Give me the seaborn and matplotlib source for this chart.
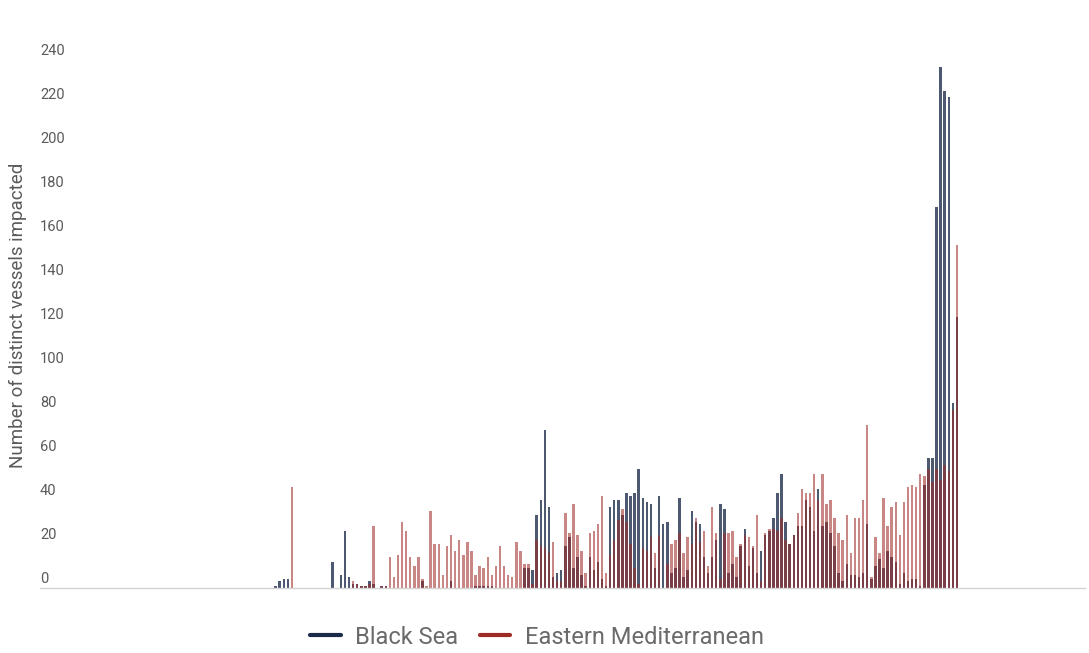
import matplotlib
matplotlib.use("Agg")
import matplotlib.pyplot as plt
import matplotlib.transforms as mtransforms
from matplotlib.lines import Line2D
import seaborn as sns
import pandas as pd

# ---- data ----
black_sea = [1, 3, 4, 4, 0, 0, 0, 0, 0, 0, 0, 0, 0, 0, 12, 0, 6, 26, 5, 2,
             2, 1, 1, 3, 2, 0, 1, 1, 0, 0, 0, 0, 0, 0, 0, 0, 3, 0, 0, 0,
             0, 0, 0, 3, 0, 0, 0, 0, 0, 1, 1, 1, 1, 1, 0, 0, 0, 0, 0, 0,
             0, 9, 9, 8, 33, 40, 72, 37, 5, 7, 8, 19, 23, 9, 14, 6, 1, 14, 8, 12,
             4, 1, 37, 40, 40, 33, 43, 42, 43, 54, 41, 39, 38, 9, 42, 29, 30, 7, 9, 41,
             5, 8, 35, 30, 29, 14, 7, 14, 22, 38, 36, 7, 11, 5, 19, 27, 10, 18, 7, 17,
             24, 26, 32, 43, 52, 30, 20, 24, 28, 28, 40, 37, 26, 45, 28, 30, 25, 19, 7, 3,
             11, 6, 6, 5, 7, 29, 4, 10, 13, 9, 17, 14, 12, 2, 7, 3, 4, 4, 1, 47,
             59, 59, 173, 237, 226, 223, 84, 123]
east_med = [0, 0, 0, 0, 46, 0, 0, 0, 0, 0, 0, 0, 0, 0, 0, 0, 0, 0, 0, 3,
            2, 1, 1, 2, 28, 0, 1, 1, 14, 5, 15, 30, 26, 14, 10, 14, 4, 1, 35, 20,
            20, 6, 19, 24, 17, 22, 15, 21, 17, 6, 10, 9, 14, 6, 10, 19, 10, 6, 5, 21,
            17, 11, 11, 2, 22, 19, 18, 16, 21, 3, 3, 34, 25, 38, 24, 17, 7, 25, 26, 29,
            42, 7, 15, 22, 31, 36, 30, 20, 9, 2, 18, 17, 23, 16, 24, 0, 11, 20, 22, 25,
            16, 23, 20, 32, 21, 26, 10, 37, 25, 4, 25, 25, 26, 14, 20, 24, 23, 19, 33, 3,
            25, 27, 27, 26, 32, 22, 20, 24, 34, 45, 43, 43, 52, 40, 52, 38, 40, 32, 25, 22,
            33, 16, 32, 32, 40, 74, 5, 23, 16, 41, 28, 37, 39, 24, 39, 46, 47, 46, 52, 51,
            54, 48, 54, 49, 56, 53, 81, 156]
days = list(range(len(black_sea)))
y_ticks = [0, 20, 40, 60, 80, 100, 120, 140, 160, 180, 200, 220, 240]
series_names = ["Black Sea", "Eastern Mediterranean"]

df = pd.DataFrame({"day": days, "Black Sea": black_sea,
                   "Eastern Mediterranean": east_med})

BS_COLOR = "#1b2a48"
EM_COLOR = "#9e2a25"
TXT = "#5a5a5a"

sns.set_style("white")
plt.rcParams["font.family"] = ["Roboto", "DejaVu Sans"]

W, H = 1089, 653
fig = plt.figure(figsize=(W / 100, H / 100), dpi=100)
ax = fig.add_axes([40 / W, 1 - 588 / H, 1045 / W, (588 - 38) / H])

sns.barplot(data=df, x="day", y="Black Sea", color=BS_COLOR, alpha=0.78,
            width=0.6, saturation=1, linewidth=0, ax=ax)
sns.barplot(data=df, x="day", y="Eastern Mediterranean", color=EM_COLOR,
            alpha=0.56, width=0.6, saturation=1, linewidth=0, ax=ax)

step = 4.08
first_px = 275.6
ax.set_xlim((40 - first_px) / step, (1085 - first_px) / step)
ax.set_ylim(0, 250)

for s in ["top", "right", "left"]:
    ax.spines[s].set_visible(False)
ax.spines["bottom"].set_color("#d4d4d4")
ax.spines["bottom"].set_linewidth(1)
ax.set_xticks([])
ax.set_yticks([])
ax.set_xlabel("")
ax.set_ylabel("")

trans = mtransforms.blended_transform_factory(ax.transAxes, ax.transData)
trans = mtransforms.offset_copy(trans, fig=fig, x=0, y=1.5, units="points")
for v in y_ticks:
    ax.text(0.0, v, str(v), transform=trans, ha="left", va="bottom",
            fontsize=10.5, color=TXT)

fig.text(18 / W, 1 - 315 / H, "Number of distinct vessels impacted",
         rotation=90, ha="center", va="center", fontsize=13.5, color=TXT)

handles = [Line2D([0], [0], color=BS_COLOR, lw=3),
           Line2D([0], [0], color=EM_COLOR, lw=3)]
leg = fig.legend(handles, series_names, loc="center",
                 bbox_to_anchor=(537 / W, 1 - 637 / H), ncol=2, frameon=False,
                 fontsize=17, handlelength=1.3, handletextpad=0.6,
                 columnspacing=0.9)
for t in leg.get_texts():
    t.set_color("#6a6a6a")

fig.savefig("out.png", dpi=100)
